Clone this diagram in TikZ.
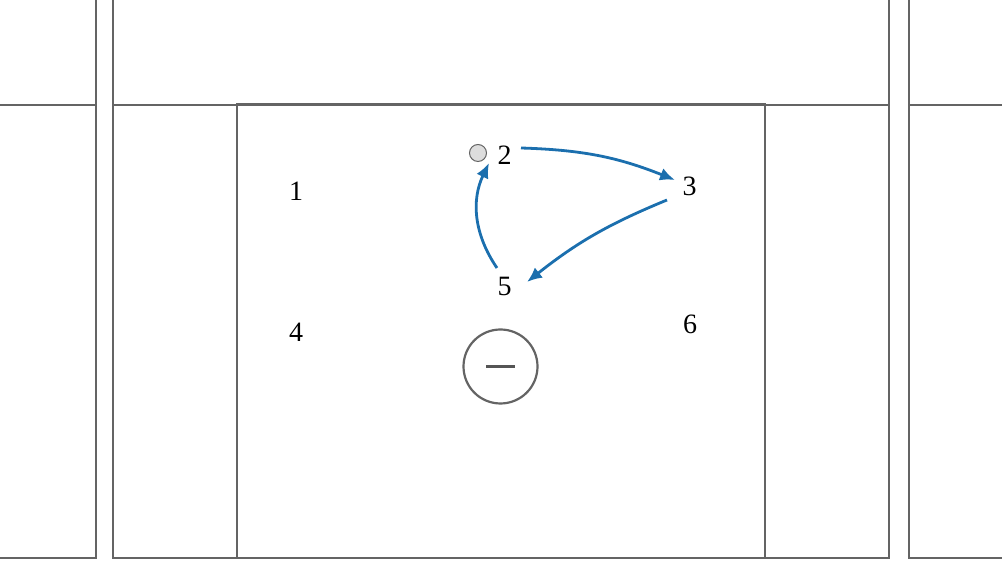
\documentclass[tikz,border=0pt]{standalone}
\usepackage{fontspec}
\setmainfont{Liberation Serif}
\usetikzlibrary{arrows.meta}
\definecolor{wallgray}{HTML}{646464}
\definecolor{arrowblue}{HTML}{1B6FAE}
\definecolor{dotfill}{HTML}{DDDDDD}
\tikzset{
  wall/.style={draw=wallgray, line width=2.3pt},
  num/.style={font=\fontsize{28}{32}\selectfont, inner sep=0pt},
  flow/.style={draw=arrowblue, line width=2.8pt, -{Latex[length=15pt,width=13pt]}},
}
\begin{document}
\begin{tikzpicture}[x=1pt,y=1pt]
\useasboundingbox (0,0) rectangle (1002,564);
% walls
\draw[wall] (0,6) -- (96,6) -- (96,564);
\draw[wall] (0,459) -- (96,459);
\draw[wall] (113,564) -- (113,6) -- (889,6) -- (889,564);
\draw[wall] (113,459) -- (889,459);
\draw[wall] (1002,6) -- (909,6) -- (909,564);
\draw[wall] (909,459) -- (1002,459);
\draw[wall] (237,6) rectangle (765,460);
% labels
\node[num] (n1) at (296,373) {1};
\node[num] (n2) at (504.5,409) {2};
\node[num] (n3) at (689.5,378) {3};
\node[num] (n4) at (296,232) {4};
\node[num] (n5) at (504.5,278) {5};
\node[num] (n6) at (690,240) {6};
% small marker
\node[circle, draw=wallgray, fill=dotfill, line width=1pt, minimum size=17pt, inner sep=0pt] (dot) at (478,411) {};
% minus circle
\node[circle, draw=wallgray, line width=2.2pt, minimum size=74pt, inner sep=0pt] (minus) at (500.5,197.5) {};
\draw[draw=wallgray!85!black, line width=3.5pt] ([xshift=-14.5pt]minus.center) -- ([xshift=14.5pt]minus.center);
% arrow endpoints
\coordinate (s23) at (521,416);
\coordinate (e23) at (675,384);
\coordinate (s35) at (667,364);
\coordinate (e35) at (527,282);
\coordinate (s52) at (497,296);
\coordinate (e52) at (489,401);
\draw[flow] (s23) to[bend left=10] (e23);
\draw[flow] (s35) to[bend right=8] (e35);
\draw[flow] (s52) to[bend left=30] (e52);
\end{tikzpicture}
\end{document}
